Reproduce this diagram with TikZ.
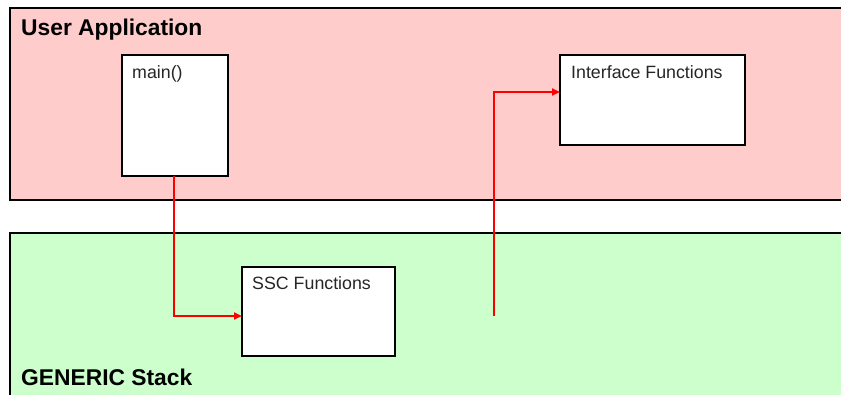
\documentclass[tikz,border=0pt]{standalone}
\usepackage{fontspec}
\setmainfont{Liberation Sans}
\usetikzlibrary{arrows.meta}
\begin{document}
\begin{tikzpicture}[x=1pt,y=-1pt,
  layer/.style={draw=black,line width=2.4pt},
  fnbox/.style={draw=black,fill=white,line width=2.4pt},
  title/.style={anchor=base west,inner sep=0pt,font=\fontsize{22.8}{25}\selectfont\bfseries},
  label/.style={anchor=base west,inner sep=0pt,font=\fontsize{17.8}{20}\selectfont,text=black!85},
  call/.style={draw=red,line width=2pt,-{Triangle[length=8pt,width=7pt]}}]
\useasboundingbox (0,0) rectangle (841,394);
\begin{scope}
\clip (0,0) rectangle (841,394);
\fill[fill={rgb,255:red,255;green,204;blue,204}] (10,8) rectangle (850,200);
\draw[layer] (850,8) -- (10,8) -- (10,200) -- (850,200);
\fill[fill={rgb,255:red,204;green,255;blue,204}] (10,233) rectangle (850,400);
\draw[layer] (850,233) -- (10,233) -- (10,400);
\end{scope}
\node[title] (ua) at (21,35) {User Application};
\node[title] (gs) at (21,385) {GENERIC Stack};
\draw[fnbox] (122,55) rectangle (228,176);
\coordinate (mainS) at (174,176);
\node[label] (main) at (132,78) {main()};
\draw[fnbox] (560,55) rectangle (745,145);
\coordinate (ifW) at (560,92);
\node[label] (iface) at (571,78) {Interface Functions};
\draw[fnbox] (242,267) rectangle (395,356);
\coordinate (sscW) at (242,316);
\node[label] (ssc) at (252,289) {SSC Functions};
\coordinate (src2) at (494,316);
\draw[call] (mainS) |- (sscW);
\draw[call] (src2) |- (ifW);
\end{tikzpicture}
\end{document}
